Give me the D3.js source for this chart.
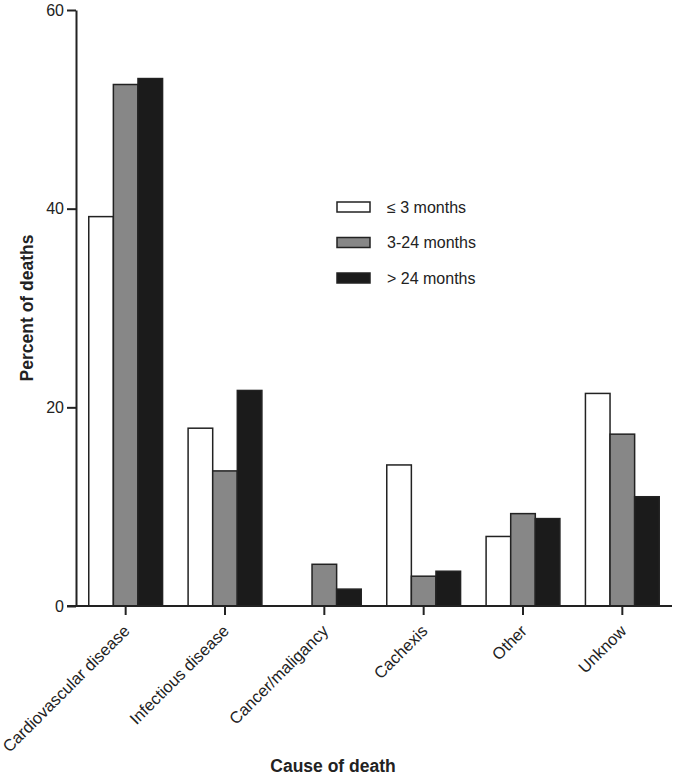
<!DOCTYPE html>
<html><head><meta charset="utf-8">
<script src="https://cdn.jsdelivr.net/npm/d3@7"></script>
<style>body{margin:0;background:#fff}svg{display:block}</style>
</head><body>
<script>
const categories = ["Cardiovascular disease","Infectious disease","Cancer/maligancy","Cachexis","Other","Unknow"];
const seriesNames = ["\u2264 3 months","3-24 months","> 24 months"];
const le3 = [39.2, 17.9, 0, 14.2, 7.0, 21.4];
const m3to24 = [52.5, 13.6, 4.2, 3.0, 9.3, 17.3];
const gt24 = [53.1, 21.7, 1.7, 3.5, 8.8, 11.0];
const yTicks = [0, 20, 40, 60];
const colors = ["#ffffff", "#878787", "#1b1b1b"];

const W = 675, H = 776;
const m = {left: 76, right: 3, top: 10, bottom: 170};
const FONT = "Liberation Sans, Arial, sans-serif";
const svg = d3.select("body").append("svg").attr("width", W).attr("height", H);
const series = [le3, m3to24, gt24];

const x = d3.scaleBand().domain(categories).range([m.left, W - m.right]).paddingInner(0.257).paddingOuter(0.1285);
const xs = d3.scaleBand().domain(d3.range(3)).range([0, x.bandwidth()]);
const y = d3.scaleLinear().domain([0, 60]).range([H - m.bottom, m.top]);

const g = svg.append("g");
categories.forEach((c, i) => {
  series.forEach((s, j) => {
    if (s[i] <= 0) return;
    g.append("rect")
      .attr("x", x(c) + xs(j))
      .attr("y", y(s[i]))
      .attr("width", xs.bandwidth())
      .attr("height", y(0) - y(s[i]))
      .attr("fill", colors[j])
      .attr("stroke", "#222")
      .attr("stroke-width", 1.5);
  });
});

// y axis
const yAxis = d3.axisLeft(y).tickValues(yTicks).tickSize(9).tickPadding(3).tickSizeOuter(0);
const ya = svg.append("g").attr("transform", `translate(${m.left},0)`).call(yAxis);
ya.select(".domain").attr("stroke", "#222").attr("stroke-width", 2);
ya.selectAll(".tick line").attr("stroke", "#222").attr("stroke-width", 2);
ya.selectAll(".tick text").attr("font-family", FONT).attr("font-size", 16).attr("fill", "#222");

// x axis
const xAxis = d3.axisBottom(x).tickSize(9).tickSizeOuter(0);
const xa = svg.append("g").attr("transform", `translate(0,${y(0)})`).call(xAxis);
xa.select(".domain").attr("stroke", "#222").attr("stroke-width", 2).attr("d", `M${m.left - 9},0H${W - m.right}`);
xa.selectAll(".tick line").attr("stroke", "#222").attr("stroke-width", 2);
xa.selectAll(".tick text")
  .attr("font-family", FONT).attr("font-size", 16.5).attr("fill", "#222")
  .attr("text-anchor", "end")
  .attr("transform", `translate(5,${632 - y(0)}) rotate(-45)`)
  .attr("x", 0).attr("y", 0).attr("dy", 0);

// axis titles
svg.append("text")
  .attr("transform", `translate(33,308) rotate(-90)`)
  .attr("text-anchor", "middle")
  .attr("font-family", FONT).attr("font-weight", "bold").attr("font-size", 17.5).attr("fill", "#222")
  .text("Percent of deaths");
svg.append("text")
  .attr("x", 333).attr("y", 772)
  .attr("text-anchor", "middle")
  .attr("font-family", FONT).attr("font-weight", "bold").attr("font-size", 17.5).attr("fill", "#222")
  .text("Cause of death");

// legend
const lg = svg.append("g").attr("transform", "translate(337,202)");
seriesNames.forEach((n, j) => {
  const row = lg.append("g").attr("transform", `translate(0,${j * 35.5})`);
  row.append("rect").attr("width", 33).attr("height", 10).attr("fill", colors[j]).attr("stroke", "#222").attr("stroke-width", 1.5);
  row.append("text").attr("x", 50).attr("y", 5).attr("dy", "0.35em")
    .attr("font-family", FONT).attr("font-size", 16).attr("fill", "#222")
    .text(n);
});
</script>
</body></html>
